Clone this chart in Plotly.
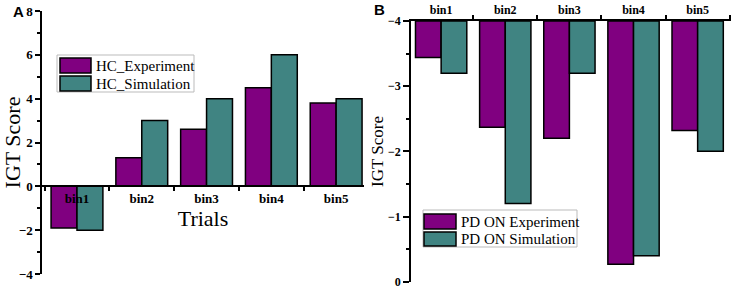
import plotly.graph_objects as go

W, H = 737, 289

categories = ["bin1", "bin2", "bin3", "bin4", "bin5"]
hc_names = ["HC_Experiment", "HC_Simulation"]
hc_experiment = [-1.9, 1.3, 2.6, 4.5, 3.8]
hc_simulation = [-2.0, 3.0, 4.0, 6.0, 4.0]
pd_names = ["PD ON Experiment", "PD ON Simulation"]
pd_experiment = [-3.44, -2.37, -2.2, -0.27, -2.32]
pd_simulation = [-3.2, -1.2, -3.2, -0.4, -2.0]
a_yticks = [-4, -2, 0, 2, 4, 6, 8]
b_yticks = [-4, -3, -2, -1, 0]

PURPLE = "#800080"
TEAL = "#408482"
SERIF = "Liberation Serif, Times New Roman, serif"

def px_x(p):
    return p / W

def px_y(p):
    return 1 - p / H

# panel geometry (pixels)
A_x0, A_x1, A_ytop, A_ybot = 42, 364, 11, 274
B_x0, B_x1, B_ytop, B_ybot = 411, 731, 21, 282
A_range = [-4, 8]
B_base = -4

a_dom_y = [px_y(A_ybot), px_y(A_ytop)]
zero_pos = a_dom_y[0] + (0 - A_range[0]) / (A_range[1] - A_range[0]) * (a_dom_y[1] - a_dom_y[0])

fig = go.Figure()
line = dict(color="black", width=1.5)
fig.add_trace(go.Bar(x=categories, y=hc_experiment, name=hc_names[0], marker=dict(color=PURPLE, line=line), xaxis="x", yaxis="y", showlegend=False))
fig.add_trace(go.Bar(x=categories, y=hc_simulation, name=hc_names[1], marker=dict(color=TEAL, line=line), xaxis="x", yaxis="y", showlegend=False))
fig.add_trace(go.Bar(x=categories, y=[v - B_base for v in pd_experiment], base=B_base, name=pd_names[0], marker=dict(color=PURPLE, line=line), xaxis="x2", yaxis="y2", showlegend=False))
fig.add_trace(go.Bar(x=categories, y=[v - B_base for v in pd_simulation], base=B_base, name=pd_names[1], marker=dict(color=TEAL, line=line), xaxis="x2", yaxis="y2", showlegend=False))

tickfont_a = dict(family=SERIF, size=13, color="black", weight="bold")
tickfont_b = dict(family=SERIF, size=12, color="black", weight="bold")

fig.update_layout(
    width=W, height=H, margin=dict(l=0, r=0, t=0, b=0, autoexpand=False),
    paper_bgcolor="white", plot_bgcolor="white",
    barmode="group", bargap=0.2, bargroupgap=0,
    xaxis=dict(domain=[px_x(A_x0), px_x(A_x1)], anchor="free", position=zero_pos, automargin=False,
               range=[-0.54, 4.43], showline=True, linecolor="black", linewidth=1.5,
               ticks="outside", tickson="boundaries", ticklen=4, tickwidth=1.5, tickcolor="black",
               showgrid=False, zeroline=False, tickfont=tickfont_a,
               title=dict(text="Trials", font=dict(family=SERIF, size=22, color="black"), standoff=0)),
    yaxis=dict(domain=a_dom_y, anchor="x", range=A_range, tickvals=a_yticks, automargin=False,
               showline=True, linecolor="black", linewidth=1.5, ticks="outside", ticklen=5, tickwidth=1.5,
               tickcolor="black", showgrid=False, zeroline=False, tickfont=tickfont_a,
               minor=dict(ticks="outside", dtick=1, ticklen=3, tickwidth=1.5, tickcolor="black"),
               title=dict(text="IGT Score", font=dict(family=SERIF, size=22, color="black"), standoff=3)),
    xaxis2=dict(domain=[px_x(B_x0), px_x(B_x1)], anchor="y2", side="top", automargin=False,
                range=[-0.47, 4.52], showline=True, linecolor="black", linewidth=1.5,
                ticks="outside", tickson="boundaries", ticklen=4, tickwidth=1.5, tickcolor="black",
                showgrid=False, zeroline=False, tickfont=tickfont_b),
    yaxis2=dict(domain=[px_y(B_ybot), px_y(B_ytop)], anchor="x2", range=[0.004, -4], tickvals=b_yticks,
                automargin=False,
                showline=True, linecolor="black", linewidth=1.5, ticks="outside", ticklen=6, tickwidth=1.5,
                tickcolor="black", showgrid=False, zeroline=False, tickfont=tickfont_b,
                minor=dict(ticks="outside", tickvals=[-3.5, -2.5, -1.5, -0.5], ticklen=3, tickwidth=1.5, tickcolor="black"),
                title=dict(text="IGT Score", font=dict(family=SERIF, size=17, color="black"), standoff=0)),
)

shapes = []
annotations = []

def legend(x0, y0, x1, y1, names, colors, sw_x0, sw_x1, rows, text_x):
    shapes.append(dict(type="rect", xref="paper", yref="paper", x0=px_x(x0), x1=px_x(x1), y0=px_y(y1), y1=px_y(y0),
                       line=dict(color="#bbbbbb", width=1), fillcolor="white", layer="above"))
    for name, color, (ra, rb) in zip(names, colors, rows):
        shapes.append(dict(type="rect", xref="paper", yref="paper", x0=px_x(sw_x0), x1=px_x(sw_x1),
                           y0=px_y(rb), y1=px_y(ra), line=dict(color="black", width=1.5), fillcolor=color, layer="above"))
        annotations.append(dict(text=name, xref="paper", yref="paper", x=px_x(text_x), y=px_y((ra + rb) / 2),
                                xanchor="left", yanchor="middle", showarrow=False,
                                font=dict(family=SERIF, size=15, color="black")))

legend(57, 55, 194, 92, hc_names, [PURPLE, TEAL], 60, 91, [(58, 73), (76, 91)], 94)
legend(423, 210, 577, 247, pd_names, [PURPLE, TEAL], 424, 456, [(214, 229), (232, 246)], 459)

annotations.append(dict(text="<b>A</b>", xref="paper", yref="paper", x=px_x(11), y=px_y(11), xanchor="left",
                        yanchor="middle", showarrow=False, font=dict(family="Liberation Sans, Arial", size=15, color="black")))
annotations.append(dict(text="<b>B</b>", xref="paper", yref="paper", x=px_x(372), y=px_y(9), xanchor="left",
                        yanchor="middle", showarrow=False, font=dict(family="Liberation Sans, Arial", size=15, color="black")))

fig.update_layout(shapes=shapes, annotations=annotations)
fig.write_html("out.html", config={"displayModeBar": False},
               post_script="document.body.style.margin='0';document.body.style.overflow='hidden';")
